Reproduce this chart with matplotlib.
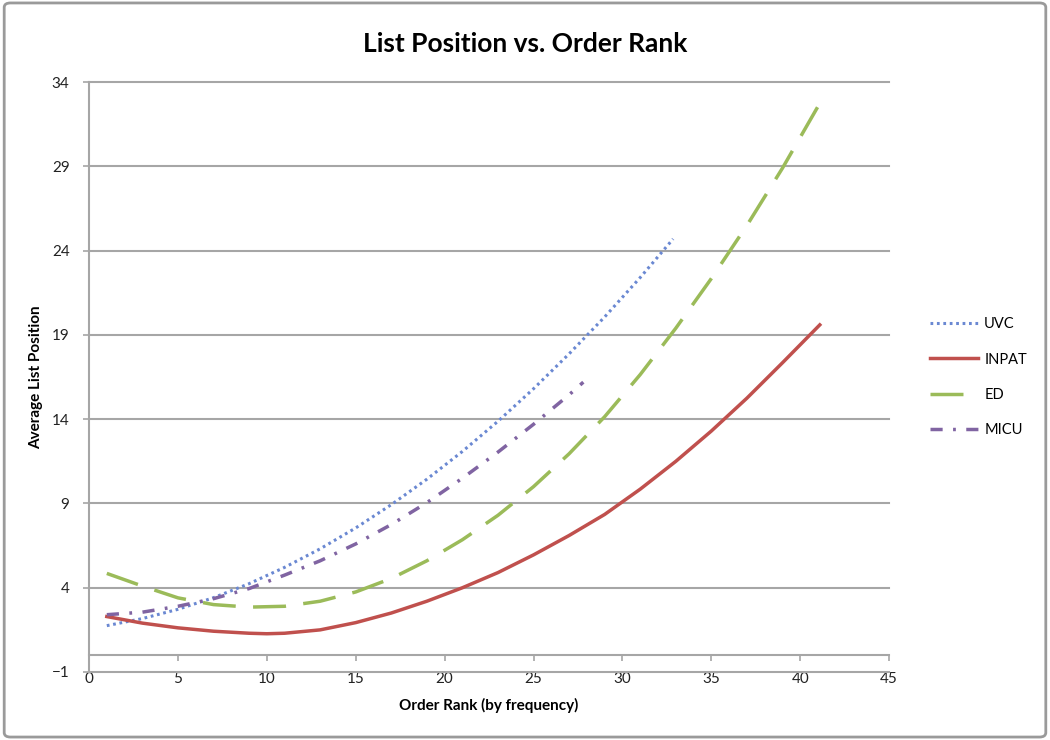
import matplotlib
matplotlib.use("Agg")
import matplotlib.pyplot as plt
from matplotlib.patches import FancyBboxPatch

plt.rcParams['font.family'] = ['Lato', 'DejaVu Sans']

# values
uvc_x = [1, 3, 5, 7, 9, 11, 13, 15, 17, 19, 21, 23, 25, 27, 29, 31, 32.85]
uvc_y = [1.75, 2.17, 2.72, 3.41, 4.24, 5.21, 6.31, 7.55, 8.93, 10.44, 12.09,
         13.88, 15.81, 17.88, 20.07, 22.41, 24.70]

inpat_x = [1, 3, 5, 7, 9, 10, 11, 13, 15, 17, 19, 21, 23, 25, 27, 29, 31, 33, 35, 37, 39, 41.1]
inpat_y = [2.29, 1.9, 1.62, 1.42, 1.3, 1.27, 1.3, 1.5, 1.93, 2.5, 3.2, 4.0, 4.9, 5.95,
           7.1, 8.35, 9.85, 11.5, 13.3, 15.25, 17.35, 19.6]

ed_x = [1, 3, 5, 7, 9, 11, 13, 15, 17, 19, 21, 23, 25, 27, 29, 31, 33, 35, 37, 39, 41.1]
ed_y = [4.85, 4.1, 3.4, 3.0, 2.85, 2.9, 3.2, 3.75, 4.55, 5.6, 6.85, 8.3, 10.0,
        11.95, 14.15, 16.65, 19.4, 22.35, 25.5, 28.9, 32.75]

micu_x = [1, 3, 5, 7, 9, 11, 13, 15, 17, 19, 21, 23, 25, 27, 27.8]
micu_y = [2.4, 2.55, 2.9, 3.35, 3.95, 4.75, 5.6, 6.6, 7.75, 9.05, 10.5, 12.05,
          13.7, 15.45, 16.2]

x_ticks = [0, 5, 10, 15, 20, 25, 30, 35, 40, 45]
y_ticks = [-1, 4, 9, 14, 19, 24, 29, 34]

grey = "#a6a6a6"

fig = plt.figure(figsize=(10.5, 7.4), dpi=100)
ax = fig.add_axes([0.0848, 0.0919, 0.762, 0.797])

ax.plot(uvc_x, uvc_y, color="#6a88d2", lw=2.2, ls=(0, (0.9, 1.2)), label="UVC")
ax.plot(inpat_x, inpat_y, color="#c0504d", lw=2.5, label="INPAT")
ax.plot(ed_x, ed_y, color="#9bbb59", lw=2.5, ls=(0, (9.5, 5)), label="ED")
ax.plot(micu_x, micu_y, color="#8064a2", lw=2.5, ls=(0, (3.5, 3, 0.8, 3)), label="MICU")

ax.set_xlim(0, 45)
ax.set_ylim(-1, 34)
ax.set_xticks(x_ticks)
ax.set_yticks(y_ticks)
ax.yaxis.grid(True, color=grey, lw=1.5)
ax.set_axisbelow(True)
for g in ax.get_ygridlines():
    g.set_clip_on(False)

ax.spines['top'].set_visible(False)
ax.spines['right'].set_visible(False)
ax.spines['bottom'].set_position(('data', 0))
ax.spines['bottom'].set_color(grey)
ax.spines['left'].set_color(grey)
ax.spines['bottom'].set_linewidth(1.5)
ax.spines['left'].set_linewidth(1.5)
ax.tick_params(axis='x', direction='out', length=4, width=1.2, color=grey,
               pad=8, labelsize=11, labelcolor="#222222")
ax.tick_params(axis='y', direction='out', length=4, width=1.2, color=grey,
               pad=10, labelsize=11, labelcolor="#222222")

ax.set_xlabel("Order Rank (by frequency)", fontsize=11, fontweight='bold', labelpad=9)
ax.set_ylabel("Average List Position", fontsize=11, fontweight='bold', labelpad=6)
fig.suptitle("List Position vs. Order Rank", x=0.5, y=0.957, fontsize=19, fontweight='bold')

ax.legend(loc='center left', bbox_to_anchor=(1.035, 0.5), frameon=False,
          fontsize=10.5, handlelength=3.3, handletextpad=0.4, labelspacing=1.45)

border = FancyBboxPatch((0.004, 0.004), 0.992, 0.992, boxstyle="round,pad=0,rounding_size=0.006",
                        transform=fig.transFigure, fill=False, ec="#9a9a9a", lw=2)
fig.patches.append(border)

fig.savefig("out.png", dpi=100)
